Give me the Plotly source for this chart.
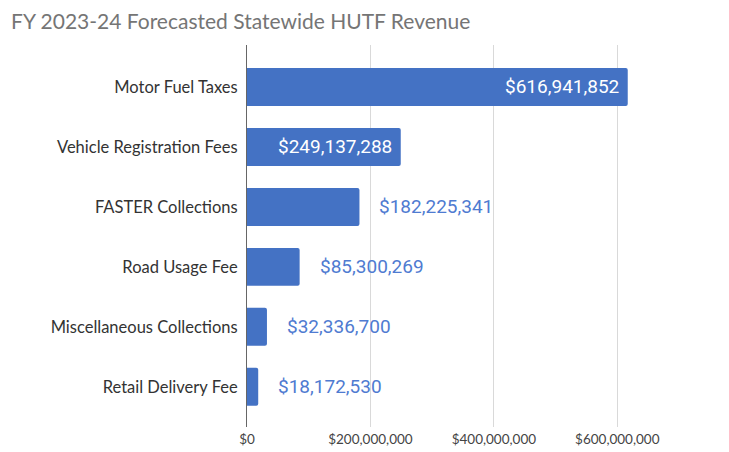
import plotly.graph_objects as go

categories = ["Motor Fuel Taxes", "Vehicle Registration Fees", "FASTER Collections",
              "Road Usage Fee", "Miscellaneous Collections", "Retail Delivery Fee"]
values = [616941852, 249137288, 182225341, 85300269, 32336700, 18172530]
inside = [True, True, False, False, False, False]
tick_vals = [0, 200000000, 400000000, 600000000]
tick_text = ["$0", "$200,000,000", "$400,000,000", "$600,000,000"]
title = "FY 2023-24 Forecasted Statewide HUTF Revenue"

BAR = "#4472c4"
fig = go.Figure()
fig.add_trace(go.Bar(
    x=values, y=categories, orientation="h",
    marker=dict(color=BAR, cornerradius=2, line=dict(width=0)),
    width=0.633, hoverinfo="skip",
))

for c, v, ins in zip(categories, values, inside):
    lab = "${:,}".format(v)
    if ins:
        fig.add_annotation(x=v, y=c, text=lab, showarrow=False, xanchor="right",
                           xshift=-7, font=dict(family="Roboto", size=19, color="#ffffff"))
    else:
        fig.add_annotation(x=v, y=c, text=lab, showarrow=False, xanchor="left",
                           xshift=18, font=dict(family="Roboto", size=19, color="#4f7bd1"))

W, H = 721, 444
fig.update_layout(
    width=W, height=H,
    margin=dict(l=239, r=50, t=37, b=25),
    paper_bgcolor="white", plot_bgcolor="white",
    showlegend=False,
    title=dict(text=title, x=3 / W, xanchor="left", y=1 - 13.5 / H, yanchor="middle",
               font=dict(family="Lato", size=21, color="#757575"), automargin=False),
    xaxis=dict(range=[0, 700000000], tickvals=tick_vals, ticktext=tick_text,
               showgrid=True, gridcolor="#d9d9d9", gridwidth=1, zeroline=False,
               showline=False, tickfont=dict(family="Lato", size=13.5, color="#444444"),
               ticks="", ticklabelstandoff=2, automargin=False, fixedrange=True),
    yaxis=dict(categoryorder="array", categoryarray=categories, range=[5.67, -0.7],
               showline=True, linecolor="#666666", linewidth=1, showgrid=False,
               tickfont=dict(family="Lato", size=16.5, color="#333333"),
               ticks="", ticklabelstandoff=5, automargin=False, fixedrange=True),
)

fig.write_html("out.html")
